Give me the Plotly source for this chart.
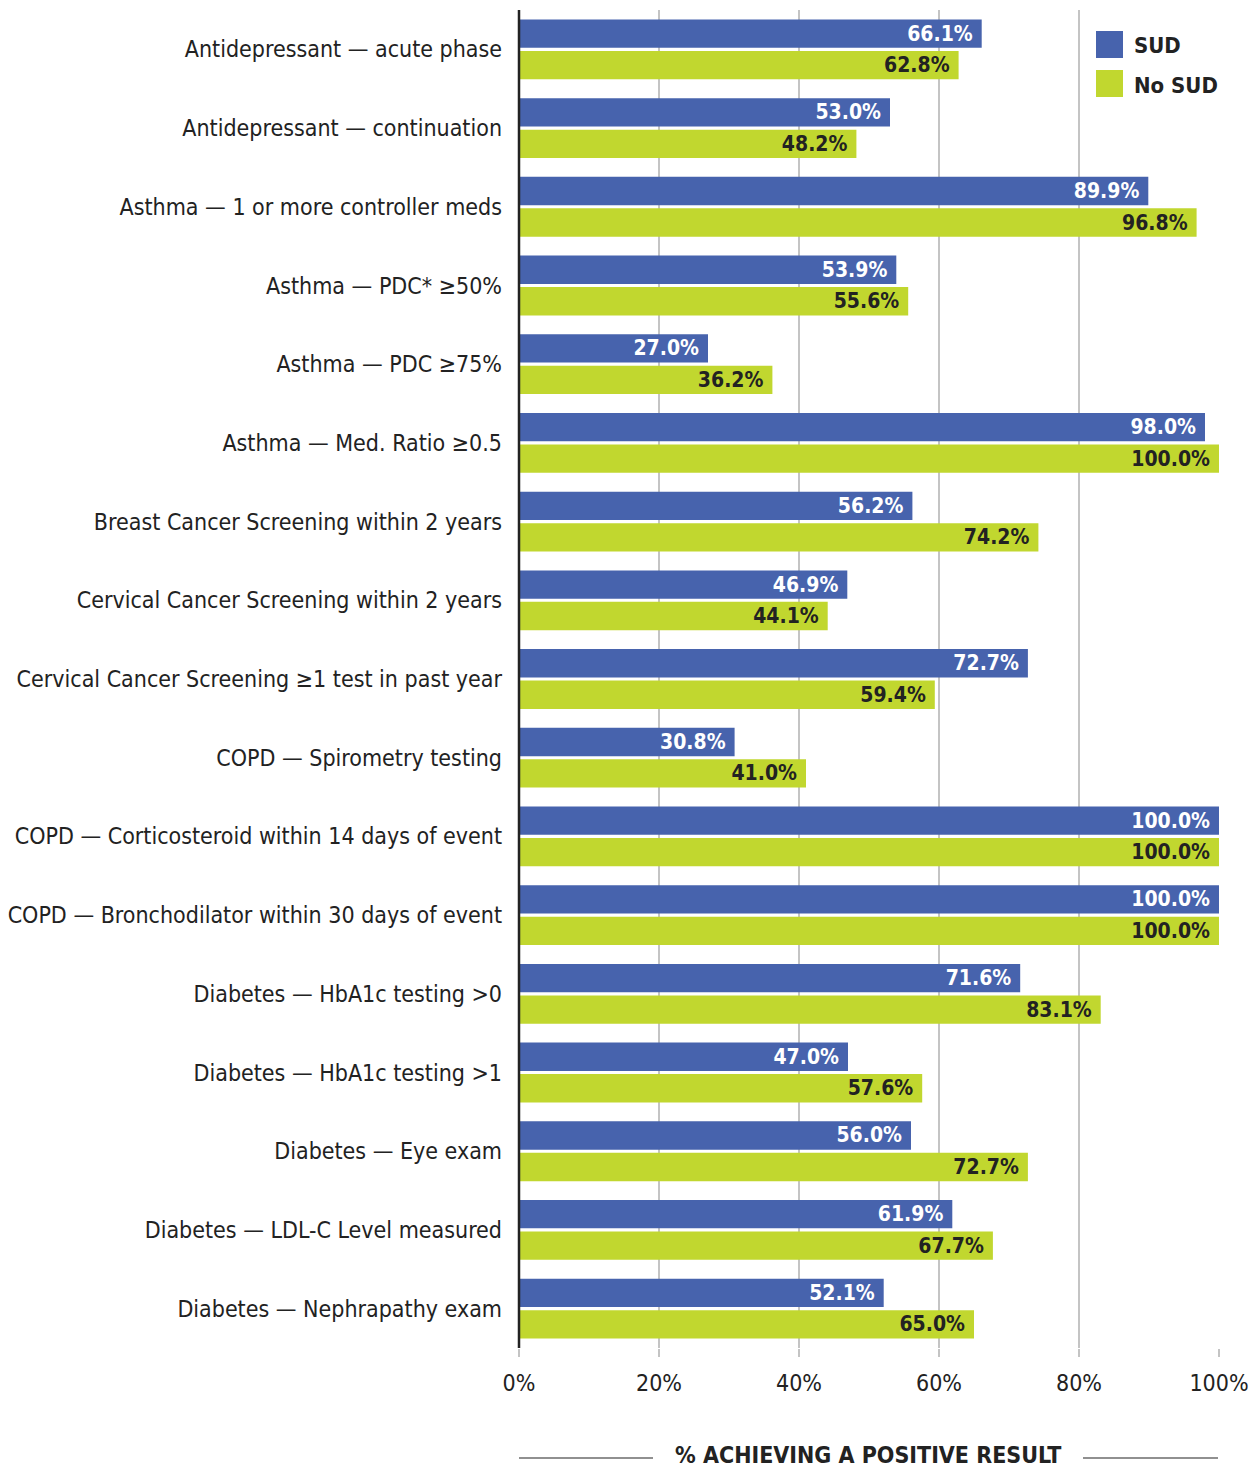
import plotly.graph_objects as go

# Quality measures, listed top to bottom
measures = [
    "Antidepressant — acute phase",
    "Antidepressant — continuation",
    "Asthma — 1 or more controller meds",
    "Asthma — PDC* ≥50%",
    "Asthma — PDC ≥75%",
    "Asthma — Med. Ratio ≥0.5",
    "Breast Cancer Screening within 2 years",
    "Cervical Cancer Screening within 2 years",
    "Cervical Cancer Screening ≥1 test in past year",
    "COPD — Spirometry testing",
    "COPD — Corticosteroid within 14 days of event",
    "COPD — Bronchodilator within 30 days of event",
    "Diabetes — HbA1c testing >0",
    "Diabetes — HbA1c testing >1",
    "Diabetes — Eye exam",
    "Diabetes — LDL-C Level measured",
    "Diabetes — Nephrapathy exam",
]

sud = [66.1, 53.0, 89.9, 53.9, 27.0, 98.0, 56.2, 46.9, 72.7, 30.8,
       100.0, 100.0, 71.6, 47.0, 56.0, 61.9, 52.1]
no_sud = [62.8, 48.2, 96.8, 55.6, 36.2, 100.0, 74.2, 44.1, 59.4, 41.0,
          100.0, 100.0, 83.1, 57.6, 72.7, 67.7, 65.0]

x_ticks = [0, 20, 40, 60, 80, 100]
x_tick_text = ["0%", "20%", "40%", "60%", "80%", "100%"]

BLUE = "#4763ad"
GREEN = "#c1d72f"
INK = "#222222"
FONT = "Liberation Sans Narrow, DejaVu Sans Condensed, Roboto Condensed, sans-serif"

fig = go.Figure()
fig.add_trace(go.Bar(
    name="SUD", y=measures, x=sud, orientation="h",
    marker=dict(color=BLUE, line=dict(width=0)),
    texttemplate="<b>%{x:.1f}%</b>\u00a0", textposition="inside",
    insidetextanchor="end", textangle=0,
    textfont=dict(color="white", size=21, family=FONT),
))
fig.add_trace(go.Bar(
    name="No SUD", y=measures, x=no_sud, orientation="h",
    marker=dict(color=GREEN, line=dict(width=0)),
    texttemplate="<b>%{x:.1f}%</b>\u00a0", textposition="inside",
    insidetextanchor="end", textangle=0,
    textfont=dict(color=INK, size=21, family=FONT),
))

L, R, T, B = 519, 1219, 10, 1348
W, H = 1251, 1469


def px(xp):
    return (xp - L) / (R - L)


def py(yp):
    return 1 - (yp - T) / (B - T)


shapes = [
    # legend swatches
    dict(type="rect", xref="paper", yref="paper", x0=px(1096), x1=px(1123),
         y0=py(58), y1=py(31), fillcolor=BLUE, line=dict(width=0)),
    dict(type="rect", xref="paper", yref="paper", x0=px(1096), x1=px(1123),
         y0=py(97), y1=py(70), fillcolor=GREEN, line=dict(width=0)),
    # rules either side of the axis title
    dict(type="line", xref="paper", yref="paper", x0=px(519), x1=px(653),
         y0=py(1458), y1=py(1458), line=dict(color=INK, width=1.2)),
    dict(type="line", xref="paper", yref="paper", x0=px(1083), x1=px(1218),
         y0=py(1458), y1=py(1458), line=dict(color=INK, width=1.2)),
    # baseline
    dict(type="line", xref="paper", yref="paper", x0=0, x1=0,
         y0=py(1348), y1=py(10), line=dict(color=INK, width=2.5)),
]

annotations = [
    dict(text="<b>SUD</b>", xref="paper", yref="paper", x=px(1132), y=py(45),
         xanchor="left", yanchor="middle", showarrow=False,
         font=dict(size=22, color=INK, family=FONT)),
    dict(text="<b>No SUD</b>", xref="paper", yref="paper", x=px(1132), y=py(85),
         xanchor="left", yanchor="middle", showarrow=False,
         font=dict(size=22, color=INK, family=FONT)),
    dict(text="<b>% ACHIEVING A POSITIVE RESULT</b>", xref="paper", yref="paper",
         x=px(868), y=py(1455), xanchor="center", yanchor="middle",
         showarrow=False, font=dict(size=23, color=INK, family=FONT)),
]

fig.update_layout(
    width=W, height=H,
    margin=dict(l=L, r=W - R, t=T, b=H - B, pad=0),
    paper_bgcolor="white", plot_bgcolor="white",
    barmode="group", bargap=0.2, bargroupgap=0.1,
    showlegend=False,
    font=dict(family=FONT, color=INK, size=23),
    uniformtext=dict(minsize=21, mode="show"),
    shapes=shapes, annotations=annotations,
    xaxis=dict(
        range=[0, 100], tickvals=x_ticks, ticktext=x_tick_text,
        showgrid=True, gridcolor="#c4c4c4", gridwidth=1.5,
        zeroline=False, showline=False, automargin=False,
        ticks="outside", ticklen=8, tickcolor="#c4c4c4", tickwidth=1.5,
        ticklabelstandoff=6, tickfont=dict(size=23, color=INK, family=FONT),
        fixedrange=True,
    ),
    yaxis=dict(
        autorange="reversed", showgrid=False, zeroline=False,
        showline=False, ticks="", ticklabelstandoff=16, automargin=False,
        tickfont=dict(size=23, color=INK, family=FONT),
        fixedrange=True,
    ),
)

fig.write_html("out.html")
